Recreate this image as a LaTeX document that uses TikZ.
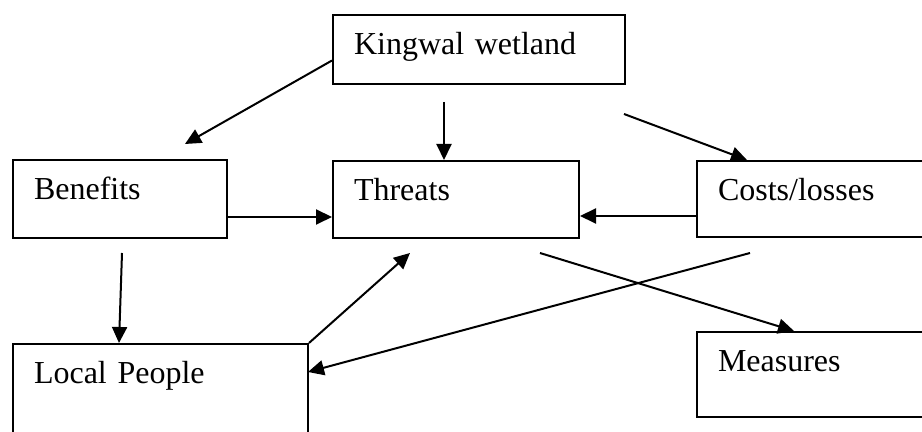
\documentclass[tikz,border=0pt]{standalone}
\usepackage{fontspec}
\setmainfont{Liberation Serif}
\usepackage{tikz}
\usetikzlibrary{arrows.meta}

\begin{document}
\begin{tikzpicture}[x=0.5pt, y=-0.5pt,
  box/.style={draw, rectangle, anchor=north west, line width=1pt, inner sep=0pt, inner xsep=10.5pt, align=left, text height=20pt, font=\fontsize{16pt}{19pt}\selectfont},
  arr/.style={line width=1pt, -{Triangle[length=8pt, width=7.5pt]}}]

\clip (0,0) rectangle (922,432);

% Boxes
\node[box, text width=125pt, text depth=14.5pt] (wet) at (332,14) {Kingwal wetland};
\node[box, text width=86pt, text depth=19pt] (ben) at (12,159) {Benefits};
\node[box, text width=102pt, text depth=18.5pt] (thr) at (332,160) {Threats};
\node[box, text width=110pt, text depth=18pt] (cost) at (696,160) {Costs/losses};
\node[box, text width=126.5pt, text depth=30pt] (loc) at (12,343) {Local People};
\node[box, text width=110pt, text depth=22.5pt] (mea) at (696,331) {Measures};

% Free ends
\coordinate (wb) at (185,144);
\coordinate (wt) at (444,102);
\coordinate (wc) at (624,114);
\coordinate (bl) at (122,253);
\coordinate (lt) at (410,253);
\coordinate (cl) at (750,253);
\coordinate (tm) at (540,253);

%Arrows
\draw[arr] ([yshift=-5.5pt]wet.west) -- (wb);
\draw[arr] (wt) -- (wt |- thr.north);
\draw[arr] (wc) -- (747,160);
\draw[arr] ([yshift=-9pt]ben.east) -- ([yshift=-9pt]ben.east -| thr.west);
\draw[arr] ([yshift=-8.5pt]cost.west) -- ([yshift=-8.5pt]cost.west -| thr.east);
\draw[arr] (bl) -- (119,343);
\draw[arr] (loc.north east) -- (lt);
\draw[arr] (cl) -- (308,372);
\draw[arr] (tm) -- (794,331);
\end{tikzpicture}
\end{document}
